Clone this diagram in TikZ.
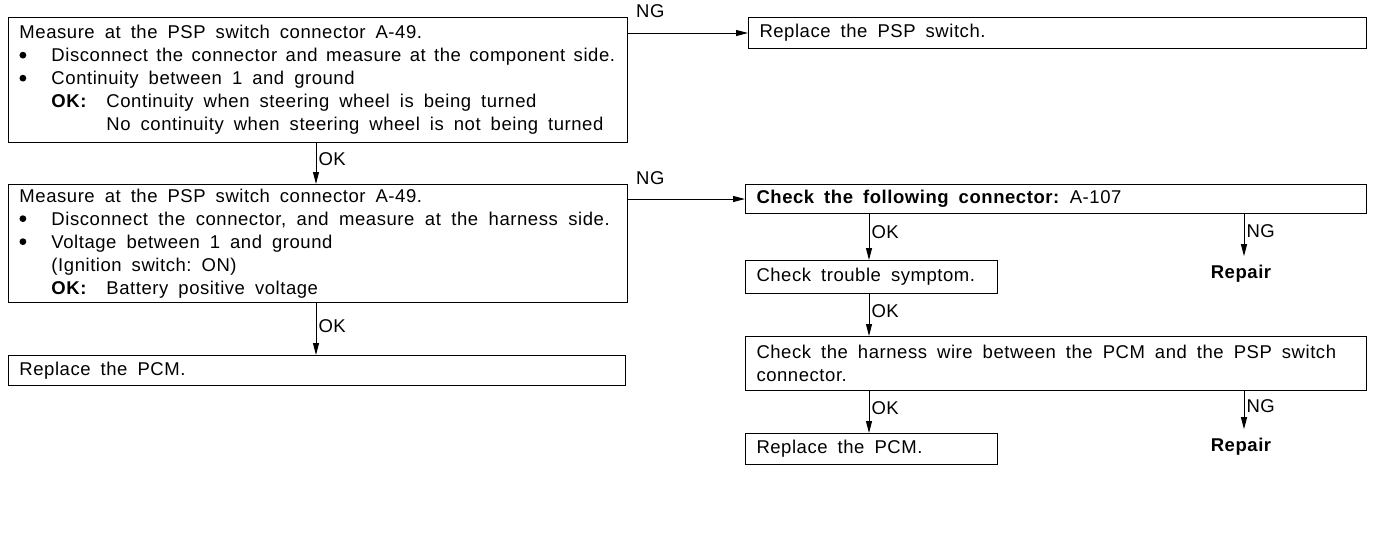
\documentclass[tikz,border=0pt]{standalone}
\usepackage{fontspec}
\setmainfont[LetterSpace=3]{Liberation Sans}
\usetikzlibrary{arrows.meta}
\frenchspacing
\newcommand\diafont{\fontsize{18.5}{23}\selectfont}
\newcommand\wsp{\spaceskip=10pt plus 2pt minus 1pt\relax}
\newcommand\bul{\makebox[32pt][l]{\raisebox{0.33ex}{\tikz\fill (0,0) circle (3.4pt);}}}
\newcommand\okl{\hspace*{32pt}\makebox[55pt][l]{\textbf{OK:}}}
\begin{document}
\begin{tikzpicture}[x=1pt,y=-1pt,
  box/.style={draw,line width=1pt,anchor=north west,inner xsep=11pt,inner ysep=0pt,align=left,font=\diafont},
  arr/.style={-{Triangle[length=12pt,width=6pt]},line width=1pt},
  lbl/.style={font=\diafont,inner sep=2pt},
  rep/.style={font=\diafont\bfseries,inner ysep=9pt}]
\useasboundingbox (0,0) rectangle (1376,544);
\coordinate (cl) at (316,0);
\coordinate (cok) at (869,0);
\coordinate (cng) at (1244,0);

\node[box,text width=597pt,minimum height=125pt] (b1) at (8,17) {\mbox{\wsp Measure at the PSP switch connector A-49.}\\
\mbox{\spaceskip=8.4pt\relax\bul Disconnect the connector and measure at the component side.}\\
\mbox{\wsp\bul Continuity between 1 and ground}\\
\mbox{\wsp\okl Continuity when steering wheel is being turned}\\
\mbox{\wsp\hspace*{87pt}No continuity when steering wheel is not being turned}};

\node[box,text width=596pt,minimum height=31pt] (rps) at (748,17) {\mbox{\wsp Replace the PSP switch.}};

\node[box,text width=597pt,minimum height=118pt] (b2) at (8,184) {\mbox{\wsp Measure at the PSP switch connector A-49.}\\
\mbox{\spaceskip=10.5pt\relax\bul Disconnect the connector, and measure at the harness side.}\\
\mbox{\wsp\bul Voltage between 1 and ground}\\
\mbox{\wsp\hspace*{32pt}(Ignition switch: ON)}\\
\mbox{\wsp\okl Battery positive voltage}};

\node[box,text width=599pt,minimum height=29pt] (chk) at (745,184) {\mbox{\wsp\textbf{Check the following connector:} A-107}};

\node[box,text width=595pt,minimum height=30pt] (pcm1) at (8,355) {\mbox{\wsp Replace the PCM.}};

\node[box,text width=230pt,minimum height=33pt] (cts) at (745,260) {\mbox{\wsp Check trouble symptom.}};

\node[box,text width=599pt,minimum height=54pt] (harn) at (745,336) {\mbox{\wsp Check the harness wire between the PCM and the PSP switch}\\connector.};

\node[box,text width=230pt,minimum height=31pt] (pcm2) at (745,433) {\mbox{\wsp Replace the PCM.}};

\node[rep] (rep1) at (1241,274) {Repair};
\node[rep] (rep2) at (1241,447) {Repair};

% NG horizontal connectors
\draw[arr] (rps.west -| b1.east) -- (rps.west);
\node[lbl,anchor=south west,xshift=6pt,yshift=-3pt] (ng1) at (b1.north east) {NG};
\draw[arr] (chk.west -| b2.east) -- (chk.west);
\node[lbl,anchor=south west,xshift=6pt,yshift=-3pt] (ng2) at (b2.north east) {NG};

% left column
\draw[arr] (cl |- b1.south) -- node[lbl,right,pos=0.4] {OK} (cl |- b2.north);
\draw[arr] (cl |- b2.south) -- node[lbl,right,pos=0.45] {OK} (cl |- pcm1.north);

% right column
\draw[arr] (cok |- chk.south) -- node[lbl,right,pos=0.4] {OK} (cok |- cts.north);
\draw[arr] (cng |- chk.south) -- node[lbl,right,pos=0.4] {NG} (cng |- rep1.north);
\draw[arr] (cok |- cts.south) -- node[lbl,right,pos=0.4] {OK} (cok |- harn.north);
\draw[arr] (cok |- harn.south) -- node[lbl,right,pos=0.4] {OK} (cok |- pcm2.north);
\draw[arr] (cng |- harn.south) -- node[lbl,right,pos=0.4] {NG} (cng |- rep2.north);
\end{tikzpicture}
\end{document}
